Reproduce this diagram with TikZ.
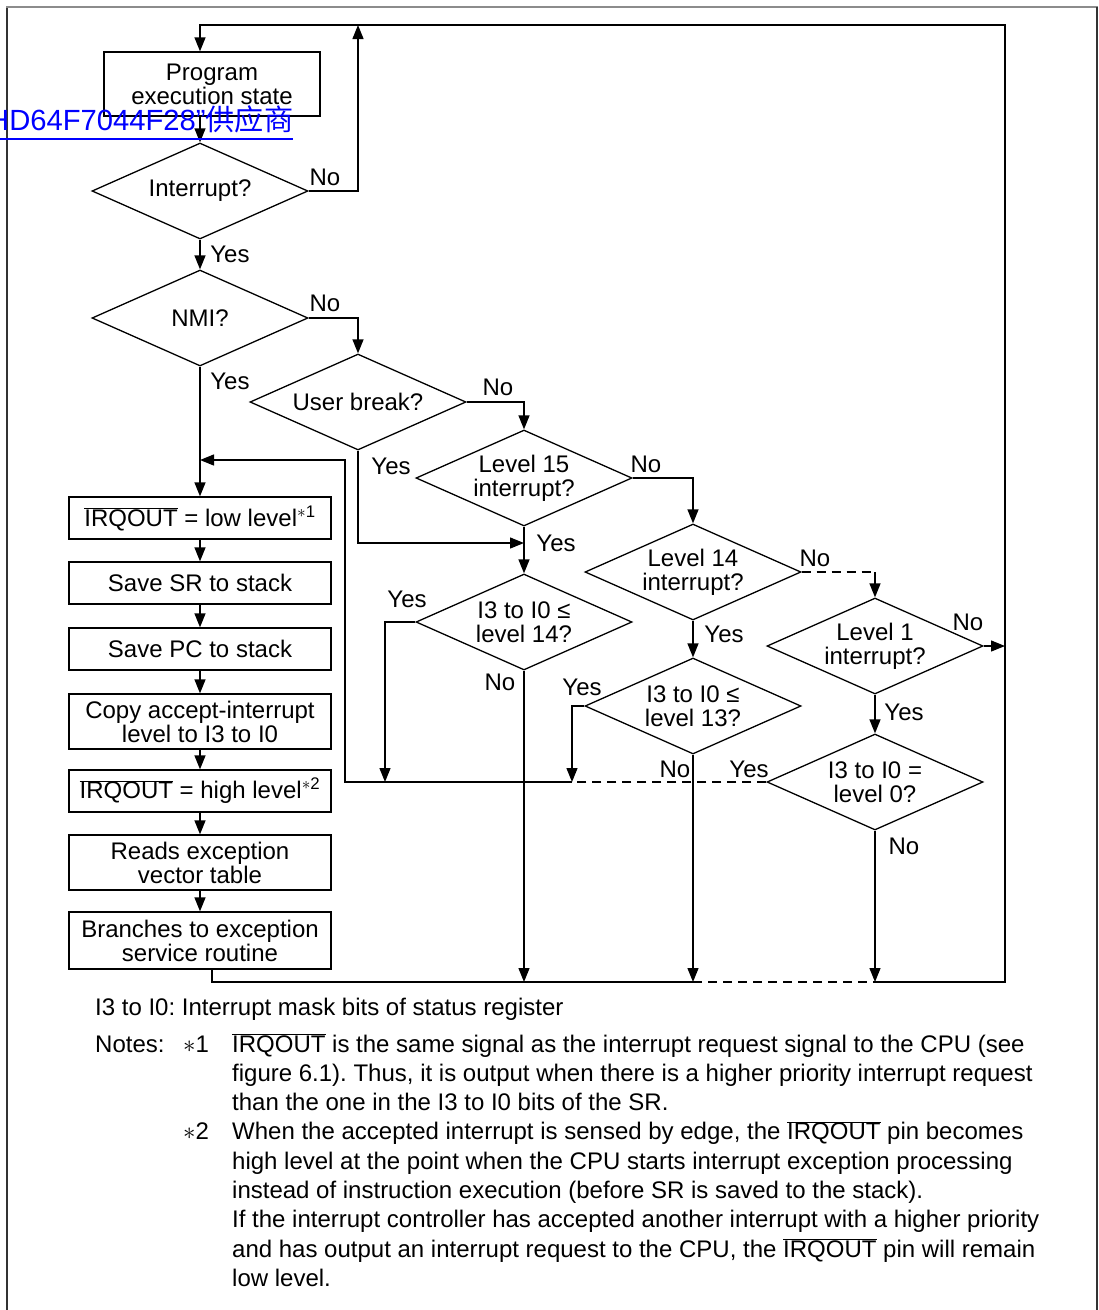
\documentclass[tikz,border=0pt]{standalone}
\usepackage{fontspec}
\setmainfont{Liberation Sans}
\newfontfamily\cjk{Noto Sans CJK SC}
\usetikzlibrary{arrows.meta,shapes.geometric}
\newcommand{\myfs}{\fontsize{24pt}{24pt}\selectfont\frenchspacing}
\newcommand{\myirq}{$\overline{\hbox{IRQOUT}}$}
\tikzset{
 ln/.style={line width=1.3pt},
 arr/.style={ln,-{Triangle[length=14pt,width=11pt]}},
 dsh/.style={ln,dash pattern=on 9pt off 6pt},
 box/.style={draw,ln,rectangle,minimum width=262pt,minimum height=42pt,inner sep=0pt,align=center,font=\myfs},
 dia/.style={draw,ln,diamond,minimum width=216pt,minimum height=96pt,inner sep=0pt},
 lab/.style={inner sep=0pt,align=center,font=\myfs},
 txt/.style={inner sep=0pt,anchor=base west,font=\myfs},
}
\begin{document}
\begin{tikzpicture}[x=1pt,y=-1pt]
\useasboundingbox (0,0) rectangle (1099,1310);
% frame
\draw[line width=2pt, black!80] (7,1312) -- (7,7);
\draw[line width=2pt, black!45] (6,7) -- (1098,7);
\draw[line width=2pt, black!80] (1097,7) -- (1097,1312);

% nodes
\node[box,minimum width=216pt,minimum height=64pt] (prog) at (212,84) {Program\\execution state};
\node[dia,label={[lab]center:{Interrupt?}}] (intr) at (200,191) {};
\node[dia,label={[lab]center:{NMI?}}] (nmi) at (200,318) {};
\node[dia,label={[lab]center:{User break?}}] (ub) at (358,402) {};
\node[dia,label={[lab]center:{Level 15\\interrupt?}}] (l15) at (524,478) {};
\node[dia,label={[lab]center:{I3 to I0 ≤\\level 14?}}] (c14) at (524,622) {};
\node[dia,label={[lab]center:{Level 14\\interrupt?}}] (l14) at (693,572) {};
\node[dia,label={[lab]center:{I3 to I0 ≤\\level 13?}}] (c13) at (693,706) {};
\node[dia,label={[lab]center:{Level 1\\interrupt?}}] (l1) at (875,646) {};
\node[dia,label={[lab]center:{I3 to I0 =\\level 0?}}] (c0) at (875,782) {};

\node[box] (b1) at (200,518) {\myirq{} = low level\textsuperscript{$\ast$1}};
\node[box] (b2) at (200,583) {Save SR to stack};
\node[box] (b3) at (200,649) {Save PC to stack};
\node[box,minimum height=55pt] (b4) at (200,721.5) {Copy accept-interrupt\\level to I3 to I0};
\node[box] (b5) at (200,791) {\myirq{} = high level\textsuperscript{$\ast$2}};
\node[box,minimum height=55pt] (b6) at (200,862.5) {Reads exception\\vector table};
\node[box,minimum height=57pt] (b7) at (200,940.5) {Branches to exception\\service routine};

% coordinates
\coordinate (upt) at (358,25);
\coordinate (k15) at (524,543);
\coordinate (m385) at (385,782);
\coordinate (m572) at (572,782);
\coordinate (m345) at (345,782);
\coordinate (j200) at (200,460);
\coordinate (d875) at (875,572);
\coordinate (r646) at (1005,646);
\coordinate (j524) at (524,982);
\coordinate (j693) at (693,982);
\coordinate (j875) at (875,982);
\coordinate (br) at (1005,982);
\coordinate (tr) at (1005,25);
\coordinate (pin) at (prog.north -| intr.north);
\coordinate (pout) at (prog.south -| intr.north);

% connectors
\draw[arr] (pout) -- (intr.north);
\draw[arr] (intr.east) -| (upt);
\draw[arr] (intr.south) -- (nmi.north);
\draw[arr] (nmi.east) -| (ub.north);
\draw[arr] (nmi.south) -- (b1.north);
\draw[arr] (b1.south) -- (b2.north);
\draw[arr] (b2.south) -- (b3.north);
\draw[arr] (b3.south) -- (b4.north);
\draw[arr] (b4.south) -- (b5.north);
\draw[arr] (b5.south) -- (b6.north);
\draw[arr] (b6.south) -- (b7.north);
\draw[arr] (ub.east) -| (l15.north);
\draw[arr] (ub.south) |- (k15);
\draw[arr] (l15.south) -- (c14.north);
\draw[arr] (l15.east) -| (l14.north);
\draw[arr] (c14.west) -| (m385);
\draw[arr] (c14.south) -- (j524);
\draw[dsh] (l14.east) -- (d875);
\draw[arr] (d875) -- (l1.north);
\draw[arr] (l14.south) -- (c13.north);
\draw[arr] (c13.west) -| (m572);
\draw[arr] (c13.south) -- (j693);
\draw[arr] (l1.east) -- (r646);
\draw[arr] (l1.south) -- (c0.north);
\draw[arr] (c0.south) -- (j875);
\draw[dsh] (c0.west) -- (m572);
\draw[arr] (m572) -- (m345) |- (j200);
\draw[ln] ([xshift=12pt]b7.south) |- (j693);
\draw[dsh] (j693) -- (j875);
\draw[arr] (j875) -- (br) -- (tr) -| (pin);

% Yes / No labels
\node[lab] (t1) at (325,177) {No};
\node[lab] (t2) at (230,254) {Yes};
\node[lab] (t3) at (325,303) {No};
\node[lab] (t4) at (230,381) {Yes};
\node[lab] (t5) at (498,387) {No};
\node[lab] (t6) at (391,466) {Yes};
\node[lab] (t7) at (646,464) {No};
\node[lab] (t8) at (556,543) {Yes};
\node[lab] (t9) at (407,599) {Yes};
\node[lab] (t10) at (500,682) {No};
\node[lab] (t11) at (815,558) {No};
\node[lab] (t12) at (724,634) {Yes};
\node[lab] (t13) at (582,687) {Yes};
\node[lab] (t14) at (675,769) {No};
\node[lab] (t15) at (968,622) {No};
\node[lab] (t16) at (904,712) {Yes};
\node[lab] (t17) at (749,769) {Yes};
\node[lab] (t18) at (904,846) {No};

% notes
\node[txt] (n0) at (95,1015) {I3 to I0: Interrupt mask bits of status register};
\node[txt] (nn) at (95,1052) {Notes:};
\node[txt] (m1) at (183,1052) {$\ast$1};
\node[txt] (n1) at (232,1052) {\myirq{} is the same signal as the interrupt request signal to the CPU (see};
\node[txt] (n2) at (232,1081.3) {figure 6.1). Thus, it is output when there is a higher priority interrupt request};
\node[txt] (n3) at (232,1110.6) {than the one in the I3 to I0 bits of the SR.};
\node[txt] (m2) at (183,1139.9) {$\ast$2};
\node[txt] (n4) at (232,1139.9) {When the accepted interrupt is sensed by edge, the \myirq{} pin becomes};
\node[txt] (n5) at (232,1169.2) {high level at the point when the CPU starts interrupt exception processing};
\node[txt] (n6) at (232,1198.5) {instead of instruction execution (before SR is saved to the stack).};
\node[txt] (n7) at (232,1227.8) {If the interrupt controller has accepted another interrupt with a higher priority};
\node[txt] (n8) at (232,1257.1) {and has output an interrupt request to the CPU, the \myirq{} pin will remain};
\node[txt] (n9) at (232,1286.4) {low level.};

% watermark
\node[inner sep=0pt,anchor=base west,text=blue,font=\fontsize{29.2pt}{30pt}\selectfont] (wm) at (-12,130) {HD64F7044F28"{\cjk 供应商}};
\draw[blue,line width=2pt] ([yshift=-9pt]wm.base west) -- ([yshift=-9pt]wm.base east);
\end{tikzpicture}
\end{document}
